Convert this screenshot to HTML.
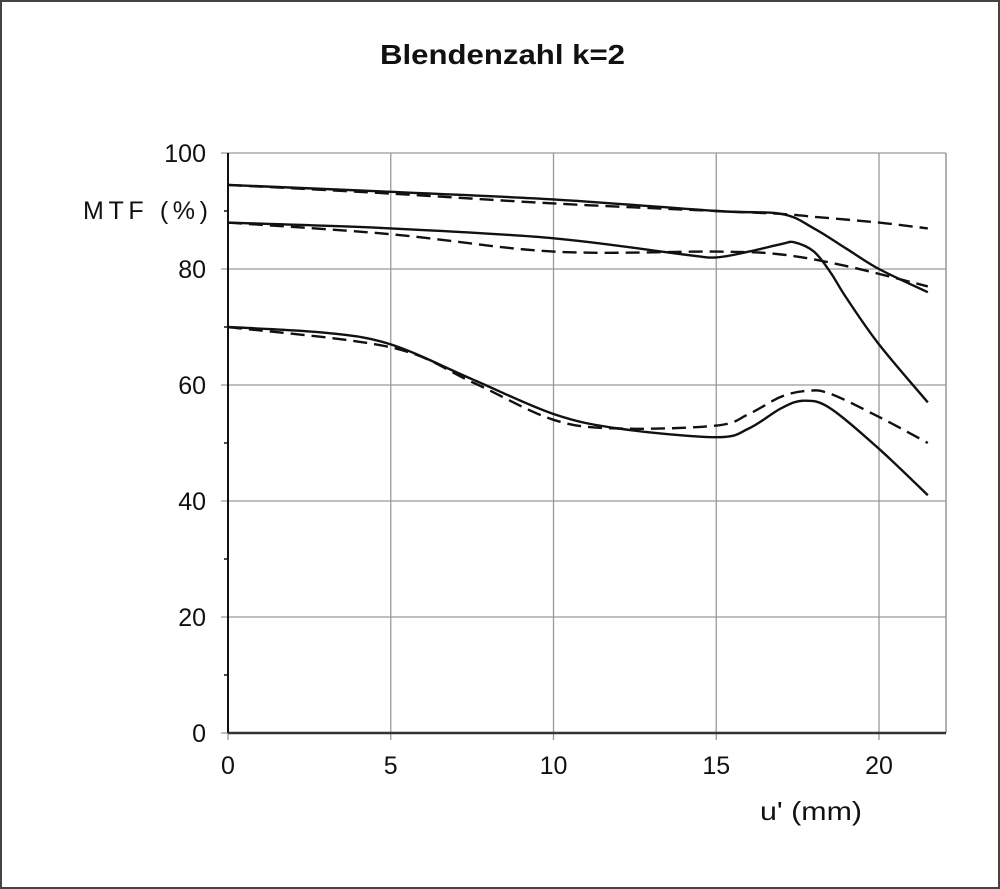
<!DOCTYPE html>
<html><head><meta charset="utf-8"><style>
html,body{margin:0;padding:0;background:#fff}
svg{display:block;font-family:"Liberation Sans",Arial,sans-serif}
</style></head><body>
<svg id="chart" width="1000" height="889" viewBox="0 0 1000 889">
<rect x="1" y="1" width="998" height="887" fill="#fff" stroke="#444" stroke-width="2"/>
<text x="380" y="64" textLength="245" lengthAdjust="spacingAndGlyphs" font-size="28" font-weight="bold" fill="#111">Blendenzahl k=2</text>
<text x="83" y="219" textLength="125" lengthAdjust="spacing" font-size="25" fill="#111">MTF (%)</text>
<text x="760" y="820" textLength="102" lengthAdjust="spacingAndGlyphs" font-size="26" fill="#111">u' (mm)</text>
<g id="grid"></g><g id="axes"></g><g id="series"></g>
</svg>
<script>
const xTicks=[0,5,10,15,20];
const yTicks=[0,20,40,60,80,100];
const yMinor=[10,30,50,70,90];
const xA=[0,5,10,15,17,18,19,20,21.5];
const aSolid=[94.5,93.3,92,90,89.5,87,83.5,80,76];
const xAd=[0,5,10,15,17,18,20,21.5];
const aDash=[94.5,93,91.3,90,89.5,89,88,87];
const xB=[0,5,10,14,15,16,17,17.4,18,18.5,19,20,21.5];
const bSolid=[88,87,85.3,82.5,82,83,84.3,84.6,83,79.5,75,67,57];
const xBd=[0,5,10,15,17,19,21.5];
const bDash=[88,86,83,83,82.5,80.5,77];
const xC=[0,3,5,7.5,10,12,15,16,17,17.7,18.5,20,21.5];
const cSolid=[70,69,67,61,55,52.5,51,52.5,56,57.3,56,49,41];
const xCd=[0,5,7.5,10,12,15,16,17,17.8,18.5,20,21.5];
const cDash=[70,66.5,60.5,54,52.5,53,55,58,59,58.5,54.5,50];

const X0=228,XS=32.55,Y0=733,YS=5.8,XR=946;
const sx=v=>X0+v*XS, sy=v=>Y0-v*YS;
const NS='http://www.w3.org/2000/svg';
function mk(tag,attrs,parent){const e=document.createElementNS(NS,tag);for(const k in attrs)e.setAttribute(k,attrs[k]);document.getElementById(parent).appendChild(e);return e;}
xTicks.forEach(t=>{
 const l=mk('line',{x1:sx(t),x2:sx(t),y1:sy(100),y2:Y0+7,stroke:'#999','stroke-width':1.3},'grid');
 
 
 const tx=mk('text',{x:sx(t),y:Y0+41,'text-anchor':'middle','font-size':25,fill:'#111'},'axes');
 tx.textContent=t;
 
 
});
yTicks.forEach(t=>{
 const l=mk('line',{x1:X0-7,x2:XR,y1:sy(t),y2:sy(t),stroke:'#999','stroke-width':1.3},'grid');
 
 
 const tx=mk('text',{x:X0-22,y:sy(t)+9,'text-anchor':'end','font-size':25,fill:'#111'},'axes');
 tx.textContent=t;
 
 
});
yMinor.forEach(t=>{
 const l=mk('line',{x1:X0-4,x2:X0,y1:sy(t),y2:sy(t),stroke:'#111','stroke-width':1.5},'axes');
 
 
});
const rb=mk('line',{x1:XR,x2:XR,y1:sy(100),y2:Y0,stroke:'#999','stroke-width':1.5},'axes');


const ya=mk('line',{x1:X0,x2:X0,y1:sy(100),y2:Y0,stroke:'#111','stroke-width':2},'axes');


const xa=mk('line',{x1:X0,x2:XR,y1:Y0,y2:Y0,stroke:'#333','stroke-width':2.5},'axes');


function smooth(xs,ys){
 const p=xs.map((x,i)=>[sx(x),sy(ys[i])]);
 let d='M'+p[0][0]+','+p[0][1];
 for(let i=0;i<p.length-1;i++){
  const p0=p[Math.max(0,i-1)],p1=p[i],p2=p[i+1],p3=p[Math.min(p.length-1,i+2)];
  const c1=[p1[0]+(p2[0]-p0[0])/6,p1[1]+(p2[1]-p0[1])/6];
  const c2=[p2[0]-(p3[0]-p1[0])/6,p2[1]-(p3[1]-p1[1])/6];
  d+=' C'+c1+' '+c2+' '+p2;
 }
 return d;
}
function series(xs,ys,dash,name){
 const a={d:smooth(xs,ys),fill:'none',stroke:'#111','stroke-width':2.4};
 if(dash)a['stroke-dasharray']='14,7';
 const e=mk('path',a,'series');
 
 
}
series(xA,aSolid,false,'series-a-solid');
series(xAd,aDash,true,'series-a-dashed');
series(xB,bSolid,false,'series-b-solid');
series(xBd,bDash,true,'series-b-dashed');
series(xC,cSolid,false,'series-c-solid');
series(xCd,cDash,true,'series-c-dashed');
</script>
</body></html>
